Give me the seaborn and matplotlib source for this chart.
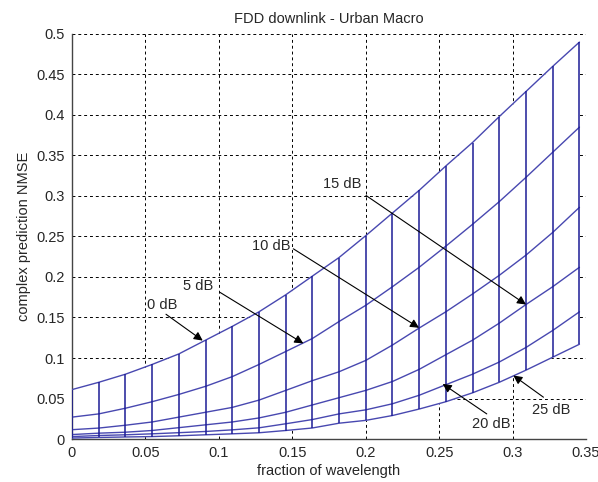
import numpy as np
import pandas as pd
import seaborn as sns
import matplotlib
matplotlib.use("Agg")
import matplotlib.pyplot as plt

# fraction of wavelength (mesh columns)
frac = [0, 0.0182, 0.0364, 0.0545, 0.0727, 0.0909, 0.1091, 0.1273, 0.1455, 0.1636,
        0.1818, 0.2, 0.2182, 0.2364, 0.2545, 0.2727, 0.2909, 0.3091, 0.3273, 0.3455]

nmse_0db = [0.061, 0.070, 0.080, 0.092, 0.105, 0.122, 0.139, 0.157, 0.178, 0.201,
            0.224, 0.251, 0.279, 0.307, 0.337, 0.366, 0.398, 0.429, 0.460, 0.490]
nmse_5db = [0.027, 0.031, 0.038, 0.046, 0.055, 0.065, 0.077, 0.092, 0.108, 0.124,
            0.145, 0.165, 0.188, 0.212, 0.238, 0.265, 0.293, 0.323, 0.354, 0.385]
nmse_10db = [0.0115, 0.0135, 0.017, 0.021, 0.027, 0.033, 0.039, 0.048, 0.060, 0.072,
             0.083, 0.097, 0.116, 0.137, 0.157, 0.179, 0.202, 0.227, 0.255, 0.286]
nmse_15db = [0.0055, 0.0072, 0.0084, 0.0105, 0.014, 0.0175, 0.021, 0.026, 0.033, 0.042,
             0.051, 0.060, 0.071, 0.086, 0.104, 0.122, 0.143, 0.166, 0.188, 0.212]
nmse_20db = [0.003, 0.0043, 0.0052, 0.0064, 0.0078, 0.0093, 0.0113, 0.0138, 0.0188, 0.024,
             0.031, 0.036, 0.0435, 0.054, 0.067, 0.080, 0.095, 0.113, 0.134, 0.157]
nmse_25db = [0.0012, 0.0019, 0.0025, 0.003, 0.004, 0.0052, 0.0064, 0.0077, 0.0105, 0.0136,
             0.0195, 0.023, 0.029, 0.037, 0.046, 0.057, 0.070, 0.085, 0.101, 0.117]

snr_labels = ["0 dB", "5 dB", "10 dB", "15 dB", "20 dB", "25 dB"]
curves = [nmse_0db, nmse_5db, nmse_10db, nmse_15db, nmse_20db, nmse_25db]

# label text position, arrow start, arrow tip
label_pos = [(0.051, 0.165), (0.0755, 0.1895), (0.1225, 0.238),
             (0.171, 0.315), (0.2725, 0.0188), (0.313, 0.036)]
arrow_from = [(0.064, 0.154), (0.1008, 0.181), (0.1507, 0.2348),
              (0.2002, 0.3006), (0.2824, 0.031), (0.321, 0.0516)]
arrow_to = [(0.089, 0.1215), (0.1575, 0.118), (0.2363, 0.1373),
            (0.3091, 0.166), (0.2524, 0.068), (0.3005, 0.0784)]

sns.set_style("white")
plt.rcParams["font.family"] = ["Liberation Sans", "DejaVu Sans"]
plt.rcParams["font.size"] = 10.5

fig = plt.figure(figsize=(5.98, 4.82), dpi=100)
ax = fig.add_axes([0.1204, 0.0892, 0.98 - 0.1204, 0.9295 - 0.0892])

df = pd.DataFrame({"x": np.tile(frac, len(curves)),
                   "y": np.concatenate(curves),
                   "snr": np.repeat(snr_labels, len(frac))})

# white mesh faces hide the grid
ax.fill_between(frac, nmse_25db, nmse_0db, color="white", zorder=2, lw=0)
sns.lineplot(data=df, x="x", y="y", units="snr", estimator=None, color="#4848b0",
             lw=1.0, ax=ax, zorder=3)
ax.vlines(frac, nmse_25db, nmse_0db, color="#1c1c96", lw=1.1, zorder=3)

for lab, p, a, b in zip(snr_labels, label_pos, arrow_from, arrow_to):
    ax.text(p[0], p[1], lab, ha="left", va="center", fontsize=10.5, zorder=5)
    ax.annotate("", xy=b, xytext=a, zorder=5,
                arrowprops=dict(arrowstyle="-|>", color="black", lw=0.8,
                                mutation_scale=13, shrinkA=0, shrinkB=0))

ax.set_xlim(0, 0.35)
ax.set_ylim(0, 0.5)
ax.set_xticks([0, 0.05, 0.1, 0.15, 0.2, 0.25, 0.3, 0.35])
ax.set_xticklabels(["0", "0.05", "0.1", "0.15", "0.2", "0.25", "0.3", "0.35"])
ax.set_yticks([0, 0.05, 0.1, 0.15, 0.2, 0.25, 0.3, 0.35, 0.4, 0.45, 0.5])
ax.set_yticklabels(["0", "0.05", "0.1", "0.15", "0.2", "0.25", "0.3", "0.35", "0.4", "0.45", "0.5"])
ax.grid(True, color="black", linestyle=(0, (3, 3)), lw=0.7, zorder=1)
ax.set_axisbelow(True)
ax.tick_params(direction="in", length=4, width=0.8, color="#444444", pad=5, labelsize=10.5)

for side in ["top", "right"]:
    ax.spines[side].set_visible(False)
for side in ["left", "bottom"]:
    ax.spines[side].set_color("#444444")
    ax.spines[side].set_linewidth(1.0)

ax.set_xlabel("fraction of wavelength", fontsize=10.5, labelpad=3)
ax.set_ylabel("complex prediction NMSE", fontsize=10.5, labelpad=4)
ax.set_title("FDD downlink - Urban Macro", fontsize=10.5, pad=8)

fig.savefig("out.png", dpi=100)
